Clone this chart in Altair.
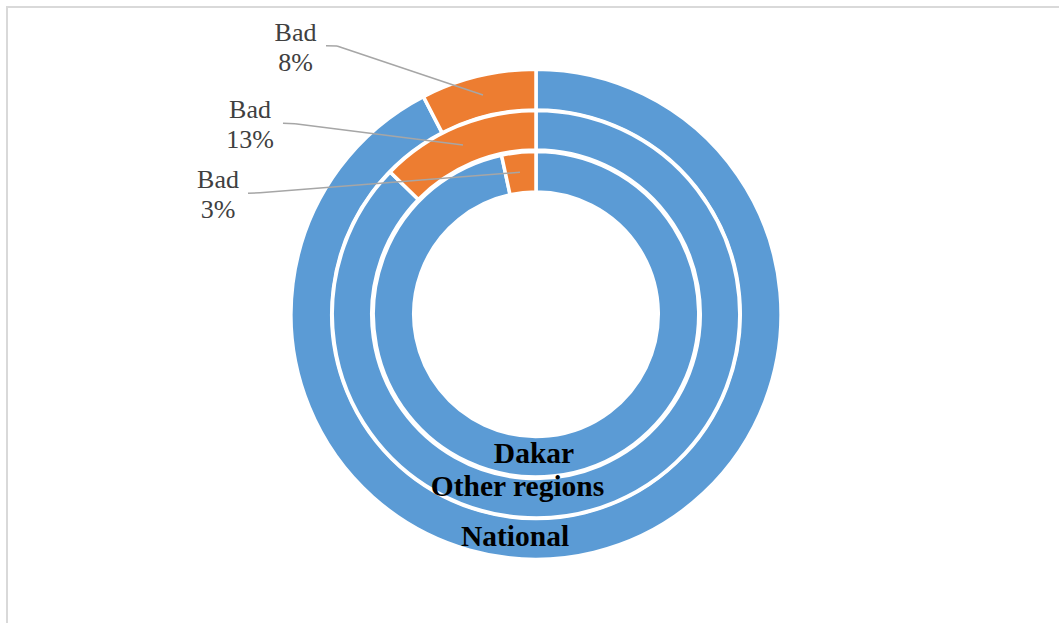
import altair as alt
import pandas as pd

# ---- data ----
rings = ["National", "Other regions", "Dakar"]          # outer -> inner
bad_share = [7.6, 12.7, 3.4]
bad_label = ["8%", "13%", "3%"]
categories = ["Good", "Bad"]
colors = ["#5B9BD5", "#ED7D31"]

rows = []
for r, b in zip(rings, bad_share):
    rows.append({"ring": r, "category": "Good", "value": 100 - b, "ord": 0})
    rows.append({"ring": r, "category": "Bad", "value": b, "ord": 1})
df = pd.DataFrame(rows)

CX, CY = 536, 314.25
SW = 3.5
# visible outer / inner radius per ring
visible = {"National": (243.3, 206), "Other regions": (202, 166), "Dakar": (161, 124)}

layers = []

# frame
layers.append(
    alt.Chart(pd.DataFrame({"a": [0]})).mark_rect(
        filled=False, stroke="#d9d9d9", strokeWidth=2
    ).encode(x=alt.value(7), y=alt.value(7), x2=alt.value(1075), y2=alt.value(640))
)

for r in rings:
    ro, ri = visible[r]
    layers.append(
        alt.Chart(df[df.ring == r]).mark_arc(
            radius=ro + SW / 2, radius2=ri - SW / 2, stroke="white", strokeWidth=SW
        ).encode(
            theta=alt.Theta("value:Q", stack=True),
            order=alt.Order("ord:O"),
            color=alt.Color("category:N", scale=alt.Scale(domain=categories, range=colors), legend=None),
            x=alt.value(CX), y=alt.value(CY),
        )
    )

# leader lines (label -> slice)
leaders = [
    [(326, 45.7), (337, 46), (483, 95)],
    [(283, 123.3), (295, 123.7), (463, 145)],
    [(248, 193.3), (260, 192.7), (520, 172.3)],
]
for pts in leaders:
    for (x1, y1), (x2, y2) in zip(pts[:-1], pts[1:]):
        layers.append(
            alt.Chart(pd.DataFrame({"a": [0]})).mark_rule(color="#a6a6a6", strokeWidth=1.5).encode(
                x=alt.value(x1), y=alt.value(y1), x2=alt.value(x2), y2=alt.value(y2)
            )
        )

# Bad labels
label_pos = [(295.5, 41), (250, 118), (218, 188)]
for lab, (lx, ly) in zip(bad_label, label_pos):
    layers.append(
        alt.Chart(pd.DataFrame({"a": [0]})).mark_text(
            text=["Bad", lab], font="Liberation Serif", fontSize=26, color="#404040",
            align="center", baseline="alphabetic", lineHeight=30,
        ).encode(x=alt.value(lx), y=alt.value(ly))
    )

# ring names
name_pos = {"Dakar": (534, 462.7), "Other regions": (517.5, 496), "National": (515, 545.7)}
for r in rings:
    nx, ny = name_pos[r]
    layers.append(
        alt.Chart(pd.DataFrame({"a": [0]})).mark_text(
            text=r, font="Liberation Serif", fontSize=29.5, fontWeight="bold", color="black",
            align="center", baseline="alphabetic",
        ).encode(x=alt.value(nx), y=alt.value(ny))
    )

chart = alt.layer(*layers).properties(
    width=1059, height=623, padding=0, autosize=alt.AutoSizeParams(type="none"),
    background="white",
).configure_view(stroke=None)

chart.save("out.html", embed_options={"renderer": "svg", "actions": False})
